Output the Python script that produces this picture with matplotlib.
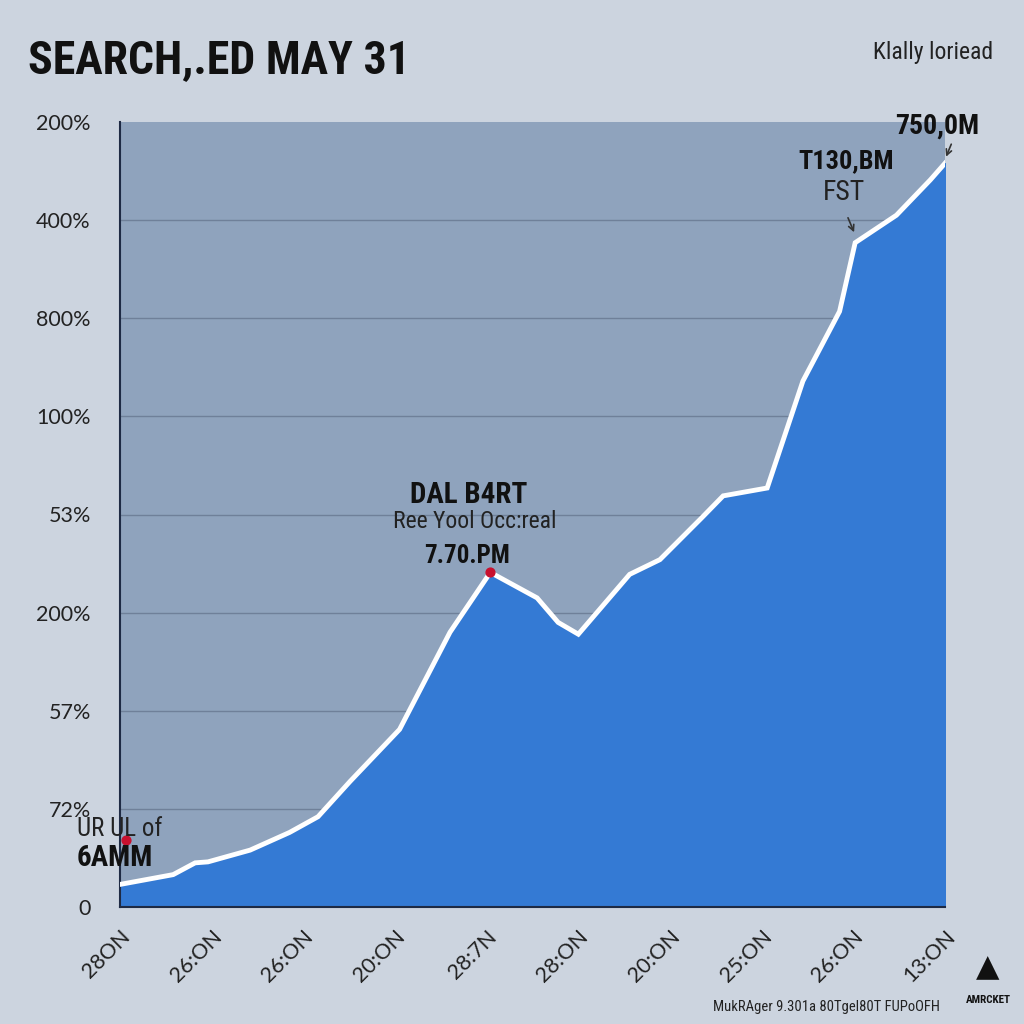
import matplotlib
matplotlib.use("Agg")
import matplotlib.pyplot as plt
from matplotlib import font_manager as fm

# ---- data ----
x_vals = [0.0, 0.58, 0.82, 0.96, 1.42, 1.85, 2.16, 2.51, 3.05, 3.6, 4.04, 4.55,
          4.78, 5.0, 5.56, 5.89, 6.35, 6.58, 7.06, 7.45, 7.85, 8.02, 8.47, 8.84, 9.0]
y_vals = [0.23, 0.33, 0.45, 0.46, 0.58, 0.76, 0.92, 1.28, 1.81, 2.80, 3.41, 3.15,
          2.90, 2.78, 3.39, 3.54, 3.97, 4.19, 4.27, 5.36, 6.07, 6.77, 7.05, 7.41, 7.58]
y_tick_labels = ["0", "72%", "57%", "200%", "53%", "100%", "800%", "400%", "200%"]
x_tick_labels = ["28ON", "26:ON", "26:ON", "20:ON", "28:7N", "28:ON", "20:ON",
                 "25:ON", "26:ON", "13:ON"]

def fam(*names):
    avail = {f.name for f in fm.fontManager.ttflist}
    out = [n for n in names if n in avail]
    return out + ["DejaVu Sans"]

NARROW = fam("Liberation Sans Narrow", "Roboto Condensed", "Roboto")
GEO = fam("Lato", "Open Sans")

fig = plt.figure(figsize=(10.24, 10.24), dpi=100)
fig.patch.set_facecolor("#CCD4DF")
ax = fig.add_axes([120/1024, 117/1024, 825/1024, 785/1024])
ax.set_facecolor("#8FA3BD")

ax.set_xlim(0, 9)
ax.set_ylim(0, 8)
ax.fill_between(x_vals, y_vals, 0, color="#347AD4", zorder=2)
ax.plot(x_vals, y_vals, color="white", lw=3.5, zorder=3, solid_joinstyle="miter")

ax.set_yticks(range(9))
ax.set_yticklabels(y_tick_labels, family=GEO, fontsize=15.5, color="#222222")
ax.set_xticks(range(10))
ax.set_xticklabels(x_tick_labels, family=GEO, fontsize=15.5, color="#222222",
                   rotation=45, ha="right", va="top", rotation_mode="anchor")
ax.tick_params(axis="y", length=0, pad=21)
ax.tick_params(axis="x", length=0, pad=14)
for y in range(1, 8):
    ax.axhline(y, color="#6F8099", lw=1, zorder=1)
for s in ["top", "right"]:
    ax.spines[s].set_visible(False)
ax.spines["left"].set_color("#1E2A44")
ax.spines["bottom"].set_color("#1E2A44")
ax.spines["left"].set_linewidth(1.5)
ax.spines["bottom"].set_linewidth(1.5)

# title and header
fig.text(28/1024, 1 - 60/1024, "SEARCH,.ED MAY 31", family=NARROW, fontsize=33,
         fontweight="bold", color="#111111", ha="left", va="center")
fig.text(993/1024, 1 - 52/1024, "Klally loriead", family=NARROW, fontsize=17,
         color="#222222", ha="right", va="center")

# annotations
ax.scatter([x_vals[10]], [y_vals[10]], s=40, color="#C8102E", zorder=4)
ax.text(3.8, 4.2, "DAL B4RT", family=NARROW, fontsize=21, fontweight="bold",
        color="#111111", ha="center", va="center", zorder=5)
ax.text(3.87, 3.93, "Ree Yool Occ:real", family=NARROW, fontsize=17,
        color="#222222", ha="center", va="center", zorder=5)
ax.text(3.79, 3.58, "7.70.PM", family=NARROW, fontsize=18, fontweight="bold",
        color="#111111", ha="center", va="center", zorder=5)

ax.text(7.92, 7.6, "T130,BM", family=NARROW, fontsize=19, fontweight="bold",
        color="#111111", ha="center", va="center", zorder=5)
ax.text(7.9, 7.28, "FST", family=NARROW, fontsize=20, color="#222222",
        ha="center", va="center", zorder=5)
ax.annotate("", xy=(8.02, 6.85), xytext=(7.93, 7.05),
            arrowprops=dict(arrowstyle="->", color="#333333", lw=1.2), zorder=5)
ax.text(8.91, 7.96, "750,0M", family=NARROW, fontsize=20, fontweight="bold",
        color="#111111", ha="center", va="center", zorder=5, clip_on=False)
ax.annotate("", xy=(9.0, 7.62), xytext=(9.08, 7.8),
            arrowprops=dict(arrowstyle="->", color="#333333", lw=1.2),
            zorder=5, annotation_clip=False)

ax.scatter([0.06], [0.68], s=40, color="#C8102E", zorder=4, clip_on=False)
ax.text(0.0, 0.8, "UR UL of", family=NARROW, fontsize=18, color="#222222",
        ha="center", va="center", zorder=5, clip_on=False)
ax.text(-0.06, 0.5, "6AMM", family=NARROW, fontsize=21, fontweight="bold",
        color="#111111", ha="center", va="center", zorder=5, clip_on=False)

# footer
fig.text(940/1024, 1 - 1007/1024, "MukRAger 9.301a 80Tgel80T FUPoOFH",
         family=NARROW, fontsize=10.5, color="#222222", ha="right", va="center")
fig.text(988/1024, 1 - 1000/1024, "AMRCKET", family=NARROW, fontsize=8,
         fontweight="bold", color="#111111", ha="center", va="center")
fig.text(988/1024, 1 - 968/1024, "\u25B2", fontsize=22, color="#111111",
         ha="center", va="center")

fig.savefig("out.png", dpi=100, facecolor=fig.get_facecolor())
